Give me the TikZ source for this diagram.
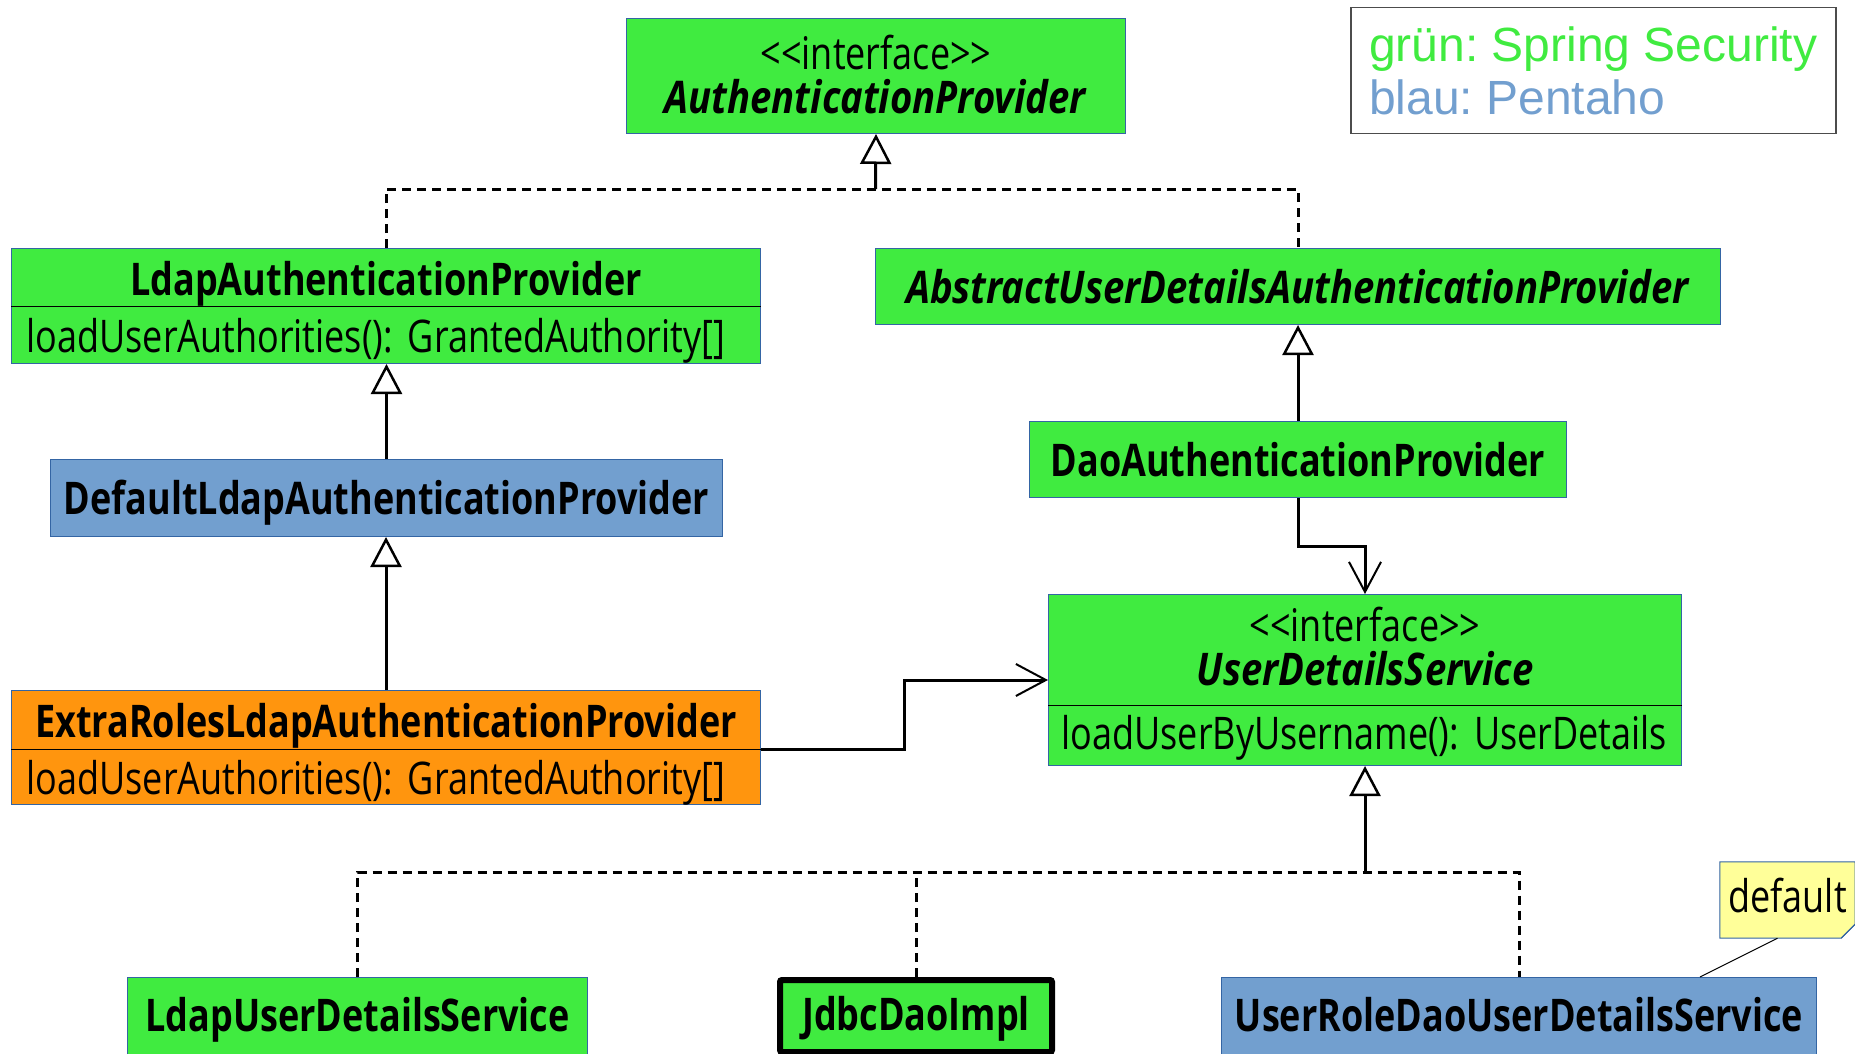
\documentclass[tikz,border=0pt]{standalone}
\usepackage{fontspec}
\setmainfont{Open Sans}[
  UprightFeatures = {FakeStretch = 0.80},
  BoldFeatures = {FakeStretch = 0.80},
  ItalicFeatures = {FakeStretch = 0.80},
  BoldItalicFeatures = {FakeStretch = 0.85}]
\newfontfamily\legendfont{Liberation Sans}
\usetikzlibrary{arrows.meta}

\definecolor{springgreen}{HTML}{40EB40}
\definecolor{pentahoblue}{HTML}{729FCF}
\definecolor{customorange}{HTML}{FF950E}
\definecolor{noteyellow}{HTML}{FFFF99}
\definecolor{foldyellow}{HTML}{CCCC77}
\definecolor{boxline}{HTML}{3465A4}

\newcommand{\umlfont}{\fontsize{45}{44}\selectfont}

\tikzset{
  umlbox/.style = {draw = boxline, line width = 1pt, inner sep = 0pt, anchor = north west, font = \umlfont},
  spring/.style = {umlbox, fill = springgreen},
  pentaho/.style = {umlbox, fill = pentahoblue},
  custom/.style = {umlbox, fill = customorange},
  oneline/.style = {text height = 36pt, text depth = 1pt},
  opsline/.style = {oneline, inner xsep = 15pt, align = left},
  inherit/.style = {line width = 3pt, -{Triangle[open, width = 31pt, length = 30pt, line width = 2.5pt]}},
  dashedline/.style = {line width = 3pt, dash pattern = on 9pt off 6pt},
  uses/.style = {line width = 3pt, -{Straight Barb[width = 32pt, length = 30pt, line width = 2pt]}}
}

\begin{document}
\frenchspacing
\begin{tikzpicture}[x = 1pt, y = -1pt]
    \useasboundingbox (0,0) rectangle (1855,1054);

    % legend
    \node [draw = black!70, line width = 1.5pt, anchor = north west, minimum width = 485pt, minimum height = 126pt, align = left, font = \legendfont\fontsize{48}{53}\selectfont] (legend) at (1350,7) {\textcolor{springgreen}{grün: Spring Security}\\\textcolor{pentahoblue}{blau: Pentaho}};

    % classes
    \node [spring, align = center, text depth = 3.5pt, minimum width = 499pt, minimum height = 115pt] (auth) at (626,18) {<{}<interface>{}>\\\textbf{\textit{AuthenticationProvider}}};
    \node [spring, oneline, minimum width = 749pt, minimum height = 58pt] (ldap) at (11,248) {\textbf{LdapAuthenticationProvider}};
    \node [spring, opsline, text width = 719pt, minimum height = 57pt] (ldapops) at (11,306) {loadUserAuthorities(): GrantedAuthority[]};
    \node [spring, oneline, text depth = 3pt, minimum width = 845pt, minimum height = 76pt] (abstract) at (875,248) {\textbf{\textit{AbstractUserDetailsAuthenticationProvider}}};
    \node [pentaho, oneline, text depth = 3pt, minimum width = 672pt, minimum height = 77pt] (dldap) at (50,459) {\textbf{DefaultLdapAuthenticationProvider}};
    \node [spring, oneline, text depth = 3pt, minimum width = 537pt, minimum height = 76pt] (dao) at (1029,421) {\textbf{DaoAuthenticationProvider}};
    \node [spring, align = center, text depth = 7pt, minimum width = 633pt, minimum height = 111pt] (uds) at (1048,594) {<{}<interface>{}>\\\textbf{\textit{UserDetailsService}}};
    \node [spring, opsline, inner xsep = 13pt, text width = 607pt, text depth = 8pt, minimum height = 60pt] (udsops) at (1048,705) {\mbox{loadUserByUsername(): UserDetails}};
    \node [custom, oneline, minimum width = 749pt, minimum height = 59pt] (extra) at (11,690) {\textbf{ExtraRolesLdapAuthenticationProvider}};
    \node [custom, opsline, text width = 719pt, minimum height = 55pt] (extraops) at (11,749) {loadUserAuthorities(): GrantedAuthority[]};
    \node [spring, oneline, text depth = 8pt, minimum width = 460pt, minimum height = 80pt] (ldapuds) at (127,977) {\textbf{LdapUserDetailsService}};
    \node [spring, oneline, text depth = 7pt, draw = black, line width = 6pt, rounded corners = 2pt, minimum width = 272pt, minimum height = 72pt] (jdbc) at (777,977) {\textbf{JdbcDaoImpl}};
    \node [pentaho, oneline, text depth = 8pt, minimum width = 595pt, minimum height = 80pt] (urdao) at (1221,977) {\textbf{UserRoleDaoUserDetailsService}};

    % compartment lines
    \draw [line width = 1pt] (ldapops.north west) -- (ldapops.north east);
    \draw [line width = 1pt] (udsops.north west) -- (udsops.north east);
    \draw [line width = 1pt] (extraops.north west) -- (extraops.north east);

    % note
    \node [minimum width = 135pt, minimum height = 76pt, inner sep = 0pt] (note) at (1787.5,900) {};
    \draw [fill = noteyellow, draw = boxline, line width = 1pt] (note.north west) -- (note.north east) -- ([yshift = 14pt]note.south east) -- ([xshift = -14pt]note.south east) -- (note.south west) -- cycle;
    \draw [fill = foldyellow, draw = boxline, line width = 1pt] ([yshift = 14pt]note.south east) -- ([xshift = -11pt, yshift = 3pt]note.south east) -- ([xshift = -14pt]note.south east) -- cycle;
    \node [font = \umlfont] (notetext) at ([yshift = 5pt]note) {default};
    \coordinate (noteend) at (1700,977);
    \draw [line width = 1pt] ([xshift = -10pt]note.south) -- (noteend);

    % connectors
    \coordinate (authjoin) at (875.5,189);
    \draw [dashedline] (ldap.north) |- (abstract.north |- authjoin) -- (abstract.north);
    \draw [inherit] (authjoin) -- (auth.south);
    \draw [inherit] (dldap.north) -- (dldap.north |- ldapops.south);
    \draw [inherit] (extra.north) -- (extra.north |- dldap.south);
    \draw [inherit] (dao.north) -- (abstract.south);
    \draw [uses] (dao.south) -- ++(0,48) -| (uds.north);
    \coordinate (udsin) at (1048,680);
    \draw [uses] (extraops.north east) -| ([xshift = -144pt]udsin) -- (udsin);
    \coordinate (udsjoin) at (1365,872);
    \draw [dashedline] (ldapuds.north) |- (urdao.north |- udsjoin) -- (urdao.north);
    \draw [dashedline] (jdbc.north) -- (jdbc.north |- udsjoin);
    \draw [inherit] (udsjoin) -- (udsops.south);
\end{tikzpicture}
\end{document}
